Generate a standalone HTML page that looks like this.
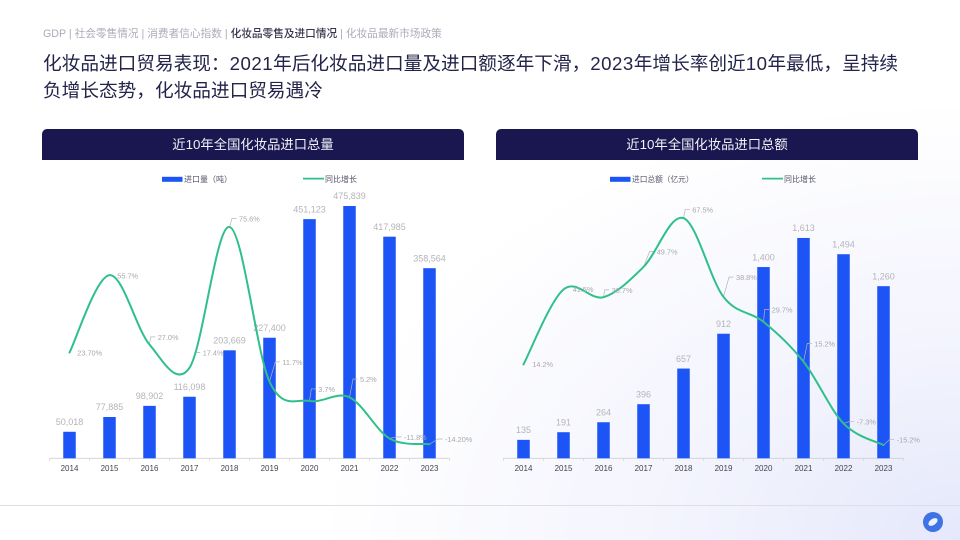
<!DOCTYPE html>
<html lang="zh">
<head>
<meta charset="utf-8">
<title>化妆品进口贸易表现</title>
<style>
html,body{margin:0;padding:0;}
body{width:960px;height:540px;overflow:hidden;position:relative;background:#fff;font-family:"Liberation Sans","Noto Sans CJK SC",sans-serif;}
#bg{position:absolute;left:0;top:0;width:960px;height:540px;background:radial-gradient(ellipse 640px 440px at 100% 100%,#e5e8fb 0%,#f3f4fd 45%,#ffffff 100%);}
#crumbs{position:absolute;left:43px;top:25.5px;font-size:10.67px;line-height:16px;color:#abacb8;white-space:nowrap;}
#crumbs .on{color:#34344c;font-weight:500;}
#title{position:absolute;left:43px;top:49.5px;font-size:18.67px;line-height:27px;color:#24244a;white-space:nowrap;}
#title .n{letter-spacing:.5px;}
.head{position:absolute;top:129px;width:422px;height:31px;background:#1a1650;border-radius:5px 5px 0 0;color:#f1f1f7;font-size:13.33px;line-height:31px;text-align:center;}
#footer-line{position:absolute;left:0;top:505px;width:960px;height:1px;background:#dedee4;}
svg.chart{position:absolute;left:0;top:0;}
</style>
</head>
<body>
<div id="bg"></div>
<div id="crumbs"><span>GDP</span> | <span>社会零售情况</span> | <span>消费者信心指数</span> | <span class="on">化妆品零售及进口情况</span> | <span>化妆品最新市场政策</span></div>
<div id="title">化妆品进口贸易表现：<span class="n">2021</span>年后化妆品进口量及进口额逐年下滑，<span class="n">2023</span>年增长率创近<span class="n">10</span>年最低，呈持续<br>负增长态势，化妆品进口贸易遇冷</div>
<div class="head" style="left:42px">近10年全国化妆品进口总量</div>
<div class="head" style="left:496px">近10年全国化妆品进口总额</div>
<svg id="chart-volume" class="chart" width="960" height="540"></svg>
<svg id="chart-value" class="chart" width="960" height="540"></svg>
<div id="footer-line"></div>
<svg style="position:absolute;left:920px;top:509px" width="26" height="26">
  <circle cx="13" cy="13" r="10" fill="#3f72e4"/>
  <ellipse cx="13" cy="13" rx="5.2" ry="3" transform="rotate(-35 13 13)" fill="#eef1fc"/>
</svg>
<script>
const years = ["2014","2015","2016","2017","2018","2019","2020","2021","2022","2023"];

const importVolume = [50018,77885,98902,116098,203669,227400,451123,475839,417985,358564];
const volumeGrowth = [23.7,55.7,27.0,17.4,75.6,11.7,3.7,5.2,-11.8,-14.2];
const volumeBarLabels = ["50,018","77,885","98,902","116,098","203,669","227,400","451,123","475,839","417,985","358,564"];
const volumeGrowthLabels = ["23.70%","55.7%","27.0%","17.4%","75.6%","11.7%","3.7%","5.2%","-11.8%","-14.20%"];

const importValue = [135,191,264,396,657,912,1400,1613,1494,1260];
const valueGrowth = [14.2,41.5,38.7,49.7,67.5,38.8,29.7,15.2,-7.3,-15.2];
const valueBarLabels = ["135","191","264","396","657","912","1,400","1,613","1,494","1,260"];
const valueGrowthLabels = ["14.2%","41.5%","38.7%","49.7%","67.5%","38.8%","29.7%","15.2%","-7.3%","-15.2%"];

const volumeCalloutOffsets = [[7.8,0.5],[7.8,1],[8.2,-7.4],[13.2,-15],[9.5,-8],[12.8,-19.4],[8.8,-11.7],[10.5,-18],[14.5,-1.3],[15.5,-5]];
const valueCalloutOffsets = [[8.8,0],[9.2,0],[8.2,-7],[13.2,-15.3],[8.8,-8.4],[12.5,-19.5],[8.2,-12.2],[10.8,-18],[13.2,-1.7],[13.2,-5.4]];

const NS = "http://www.w3.org/2000/svg";
const BASELINE = 458.3;

function make(parent, tag, attrs, text) {
  const el = document.createElementNS(NS, tag);
  for (const k in attrs) el.setAttribute(k, attrs[k]);
  if (text !== undefined) el.textContent = text;
  parent.appendChild(el);
  return el;
}

function smoothPath(pts) {
  const n = pts.length;
  const tangent = i => {
    const prev = pts[Math.max(i - 1, 0)], next = pts[Math.min(i + 1, n - 1)];
    return [(next[0] - prev[0]) / 6, (next[1] - prev[1]) / 6];
  };
  let d = "M" + pts[0][0] + " " + pts[0][1];
  for (let i = 1; i < n; i++) {
    const p0 = pts[i - 1], p1 = pts[i], t0 = tangent(i - 1), t1 = tangent(i);
    d += " C" + (p0[0] + t0[0]).toFixed(2) + " " + (p0[1] + t0[1]).toFixed(2) + " " + (p1[0] - t1[0]).toFixed(2) + " " + (p1[1] - t1[1]).toFixed(2) + " " + p1[0].toFixed(2) + " " + p1[1].toFixed(2);
  }
  return d;
}

function drawChart(cfg) {
  const svg = document.getElementById(cfg.id);
  const xScale = i => cfg.left + 40 * (i + 0.5);
  const yBar = v => BASELINE - v / cfg.barMax * cfg.barSpan;
  const yLine = v => BASELINE - (v - cfg.lineMin) / (cfg.lineMax - cfg.lineMin) * cfg.lineSpan;

  const swatch = make(svg, "rect", {x: cfg.legendBarX, y: 176.8, width: 20.5, height: 5, fill: "#1c54f5"});
  
  
  const barText = make(svg, "text", {x: cfg.legendBarX + 22, y: 182, "font-size": cfg.legendFont, fill: "#55556a"}, cfg.barName);
  
  
  const lineSwatch = make(svg, "line", {x1: cfg.legendLineX, x2: cfg.legendLineX + 21, y1: 178.6, y2: 178.6, stroke: "#2fc08a", "stroke-width": 1.8});
  
  
  const lineText = make(svg, "text", {x: cfg.legendLineX + 22, y: 182, "font-size": 8, fill: "#55556a"}, "同比增长");
  
  

  const axis = make(svg, "line", {x1: cfg.left, x2: cfg.left + 400, y1: BASELINE, y2: BASELINE, stroke: "#cfcfd6", "stroke-width": 0.8});
  
  

  for (let i = 0; i <= years.length; i++) {
    const tick = make(svg, "line", {x1: cfg.left + 40 * i, x2: cfg.left + 40 * i, y1: BASELINE, y2: BASELINE + 2.5, stroke: "#cfcfd6", "stroke-width": 0.7});
    
    
  }

  years.forEach((year, i) => {
    const cx = xScale(i), top = yBar(cfg.bars[i]);
    const bar = make(svg, "rect", {x: cx - 6.25, y: top, width: 12.5, height: BASELINE - top, fill: "#1c54f5"});
    
    
    const barLabel = make(svg, "text", {x: cx, y: top - 6.8, "text-anchor": "middle", "font-size": 9, fill: "#b4b4ba"}, cfg.barLabels[i]);
    
    
    const tickLabel = make(svg, "text", {x: cx, y: 470.8, "text-anchor": "middle", "font-size": 8, fill: "#43434f"}, year);
    
    
  });

  const pts = cfg.growth.map((v, i) => [xScale(i), yLine(v)]);

  pts.forEach((p, i) => {
    const lx = p[0] + cfg.offsets[i][0], ly = p[1] + cfg.offsets[i][1];
    if (i >= 2) {
      const leader = make(svg, "polyline", {points: p[0] + "," + p[1] + " " + (lx - 7) + "," + (ly - 0.3) + " " + (lx - 2.5) + "," + (ly - 0.3), fill: "none", stroke: "#b4b4ba", "stroke-width": 0.7});
      
      
    }
  });

  const line = make(svg, "path", {d: smoothPath(pts), fill: "none", stroke: "#2fc08a", "stroke-width": 2, "stroke-linecap": "round", "stroke-linejoin": "round"});
  
  

  pts.forEach((p, i) => {
    const lx = p[0] + cfg.offsets[i][0], ly = p[1] + cfg.offsets[i][1];
    const label = make(svg, "text", {x: lx, y: ly + 2.6, "font-size": 7.33, fill: "#a8a8ae"}, cfg.growthLabels[i]);
    
    
  });
}

drawChart({id: "chart-volume", left: 49.5, bars: importVolume, barLabels: volumeBarLabels, growth: volumeGrowth, growthLabels: volumeGrowthLabels, offsets: volumeCalloutOffsets, barMax: 500000, barSpan: 265.1, lineMin: -20, lineMax: 90, lineSpan: 266.2, barName: "进口量（吨）", legendBarX: 162, legendLineX: 303, legendFont: 8});
drawChart({id: "chart-value", left: 503.5, bars: importValue, barLabels: valueBarLabels, growth: valueGrowth, growthLabels: valueGrowthLabels, offsets: valueCalloutOffsets, barMax: 2000, barSpan: 273.2, lineMin: -20, lineMax: 80, lineSpan: 274.5, barName: "进口总额（亿元）", legendBarX: 610, legendLineX: 762, legendFont: 7.7});
</script>
</body>
</html>
